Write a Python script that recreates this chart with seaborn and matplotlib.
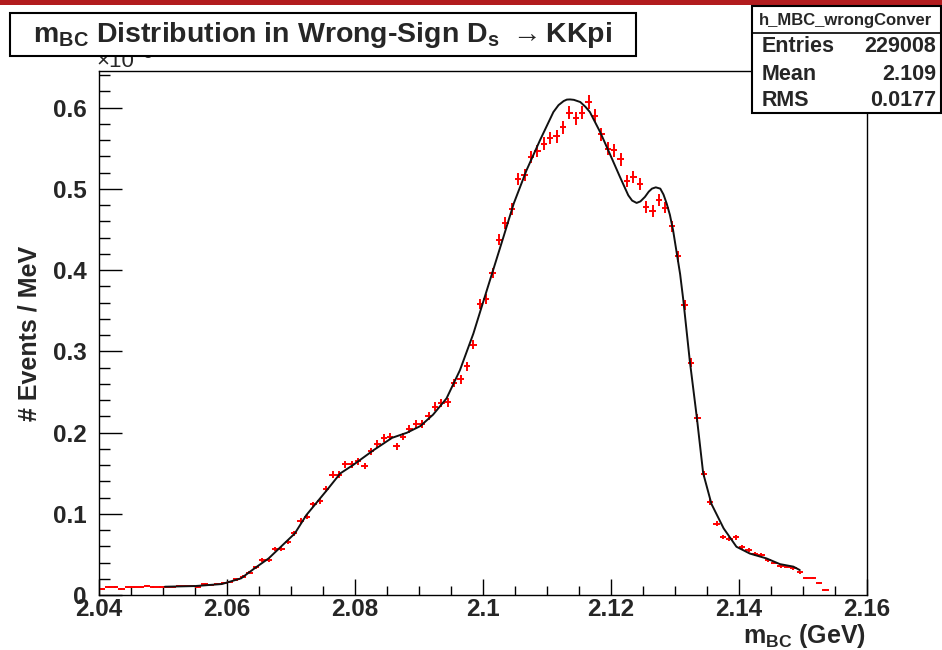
import numpy as np
import pandas as pd
import seaborn as sns
import matplotlib
matplotlib.use("Agg")
import matplotlib.pyplot as plt
from matplotlib.patches import Rectangle
from matplotlib.lines import Line2D
from matplotlib.ticker import MultipleLocator, FuncFormatter

# ---------------- data ----------------
bin_width = 0.001
first_bin_center = 2.0405
counts = [
    0.0074, 0.0102, 0.0102, 0.0074, 0.0094, 0.0094, 0.0094, 0.0115, 0.0102, 0.0102,
    0.0094, 0.0100, 0.0110, 0.0110, 0.0110, 0.0102, 0.0131, 0.0125, 0.0135, 0.0152,
    0.0164, 0.0193, 0.0225, 0.0275, 0.0340, 0.0430, 0.0430, 0.0566, 0.0570, 0.0656,
    0.0758, 0.0914, 0.0963, 0.1115, 0.1160, 0.1304, 0.1480, 0.1480, 0.1607, 0.1607,
    0.1645, 0.1587, 0.1768, 0.1860, 0.1930, 0.1950, 0.1830, 0.1950, 0.2040, 0.2105,
    0.2105, 0.2202, 0.2320, 0.2360, 0.2370, 0.2610, 0.2653, 0.2817, 0.3083, 0.3580,
    0.3640, 0.3965, 0.4375, 0.4580, 0.4756, 0.5125, 0.5166, 0.5390, 0.5465, 0.5556,
    0.5625, 0.5646, 0.5760, 0.5937, 0.5870, 0.5937, 0.6068, 0.5900, 0.5670, 0.5494,
    0.5474, 0.5363, 0.5097, 0.5146, 0.5055, 0.4777, 0.4727, 0.4867, 0.4769, 0.4539,
    0.4170, 0.3567, 0.2858, 0.2173, 0.1488, 0.1148, 0.0876, 0.0714, 0.0690, 0.0708,
    0.0595, 0.0550, 0.0508, 0.0492, 0.0426, 0.0398, 0.0357, 0.0349, 0.0332, 0.0280,
    0.0209, 0.0207, 0.0152, 0.0061,
]
err_scale = 0.0105  # statistical error ~ sqrt(content), in plotted units

fit_x = [2.0503, 2.0550, 2.0592, 2.0622, 2.0643, 2.0665, 2.0685, 2.0706, 2.0724, 2.0756,
         2.0777, 2.0797, 2.0829, 2.0858, 2.0881, 2.0902, 2.0922, 2.0943, 2.0964, 2.0985,
         2.1000, 2.1032, 2.1048, 2.1068, 2.1089, 2.1110, 2.1118, 2.1126, 2.1131, 2.1136,
         2.1142, 2.1152, 2.1160, 2.1167, 2.1183, 2.1198, 2.1214, 2.1227, 2.1233, 2.1240,
         2.1246, 2.1253, 2.1259, 2.1264, 2.1270, 2.1277, 2.1282, 2.1287, 2.1292, 2.1297,
         2.1308, 2.1313, 2.1323, 2.1334, 2.1344, 2.1357, 2.1376, 2.1396, 2.1417, 2.1443,
         2.1464, 2.1485, 2.1495]
fit_y = [0.0102, 0.0110, 0.0135, 0.0205, 0.0328, 0.0450, 0.0600, 0.0758, 0.0984, 0.1290,
         0.1497, 0.1600, 0.1783, 0.1935, 0.1997, 0.2079, 0.2220, 0.2420, 0.2768, 0.3219,
         0.3600, 0.4408, 0.4818, 0.5228, 0.5597, 0.5945, 0.6030, 0.6080, 0.6098, 0.6100,
         0.6095, 0.6068, 0.6010, 0.5945, 0.5699, 0.5433, 0.5146, 0.4920, 0.4855, 0.4826,
         0.4845, 0.4900, 0.4965, 0.5002, 0.5018, 0.5002, 0.4930, 0.4818, 0.4680, 0.4490,
         0.3950, 0.3629, 0.2890, 0.2193, 0.1500, 0.1120, 0.0820, 0.0594, 0.0510, 0.0450,
         0.0380, 0.0349, 0.0307]

title_text = r"m$_{BC}$ Distribution in Wrong-Sign D$_{s}$ $\rightarrow$KKpi"
xlabel_text = r"m$_{BC}$ (GeV)"
ylabel_text = "# Events / MeV"
stats_name = "h_MBC_wrongConver"
stats_labels = ["Entries", "Mean", "RMS"]
stats_values = ["229008", "2.109", "0.0177"]
x_range = (2.04, 2.16)
y_range = (0.0, 0.645)

# ---------------- style ----------------
sns.set_style("ticks")
plt.rcParams["font.family"] = ["Liberation Sans", "DejaVu Sans"]
plt.rcParams["font.weight"] = "bold"
plt.rcParams["mathtext.fontset"] = "custom"
plt.rcParams["mathtext.rm"] = "Liberation Sans:bold"
plt.rcParams["mathtext.it"] = "Liberation Sans:bold"
plt.rcParams["mathtext.bf"] = "Liberation Sans:bold"
plt.rcParams["mathtext.sf"] = "Liberation Sans:bold"

W, H = 942, 650


def fx(px):
    return px / W


def fy(py):
    return 1 - py / H


fig = plt.figure(figsize=(9.42, 6.5), dpi=100)
fig.patch.set_facecolor("white")

# red band at the very top
fig.add_artist(Rectangle((0, fy(5)), 1, 5 / H, transform=fig.transFigure,
                         facecolor="#b21c1e", edgecolor="none", zorder=1))

ax = fig.add_axes([fx(99), fy(595), fx(867) - fx(99), fy(71) - fy(595)])
ax.set_facecolor("white")

bins = pd.DataFrame({"x": first_bin_center + bin_width * np.arange(len(counts)),
                     "y": counts})
bins["err"] = err_scale * np.sqrt(bins["y"])

ax.errorbar(bins["x"], bins["y"], xerr=bin_width / 2, yerr=bins["err"], fmt="none",
            ecolor="#ff0000", elinewidth=1.4, capsize=0, zorder=2)

fit = pd.DataFrame({"x": fit_x, "y": fit_y})
sns.lineplot(data=fit, x="x", y="y", ax=ax, color="#111111", lw=1.4, sort=False,
             estimator=None, zorder=3)

ax.set_xlim(*x_range)
ax.set_ylim(*y_range)
ax.set_xlabel("")
ax.set_ylabel("")

ax.xaxis.set_major_locator(MultipleLocator(0.02))
ax.xaxis.set_minor_locator(MultipleLocator(0.005))
ax.yaxis.set_major_locator(MultipleLocator(0.1))
ax.yaxis.set_minor_locator(MultipleLocator(0.02))
fmt = FuncFormatter(lambda v, p: ("%g" % round(v, 4)))
ax.xaxis.set_major_formatter(fmt)
ax.yaxis.set_major_formatter(fmt)

ax.tick_params(axis="x", which="major", direction="in", length=11.5, width=1.0,
               labelsize=17.5, pad=2, color="black")
ax.tick_params(axis="x", which="minor", direction="in", length=6.5, width=1.0, color="black")
ax.tick_params(axis="y", which="major", direction="in", length=16.5, width=1.0,
               labelsize=17.5, pad=9, color="black")
ax.tick_params(axis="y", which="minor", direction="in", length=8, width=1.0, color="black")
for lbl in ax.get_xticklabels() + ax.get_yticklabels():
    lbl.set_fontweight("bold")

for s in ax.spines.values():
    s.set_visible(True)
    s.set_linewidth(1.0)
    s.set_color("black")

# axis titles
fig.text(fx(30), fy(333), ylabel_text, rotation=90, ha="center", va="center",
         fontsize=18, fontweight="bold")
fig.text(fx(866), fy(636), xlabel_text, ha="right", va="center", fontsize=18,
         fontweight="bold")

# exponent label (partly hidden behind the title box)
fig.text(fx(96), fy(67), "×10", ha="left", va="baseline", fontsize=16,
         fontweight="normal", zorder=2)
fig.text(fx(143), fy(58), "3", ha="left", va="baseline", fontsize=11,
         fontweight="normal", zorder=2)

# title box
fig.add_artist(Rectangle((fx(10), fy(56)), fx(636) - fx(10), (56 - 13) / H,
                         transform=fig.transFigure, facecolor="white",
                         edgecolor="black", lw=1.5, zorder=5))
fig.text(fx(323), fy(35), title_text, ha="center", va="center", fontsize=20.5,
         fontweight="bold", zorder=6)

# stats box
fig.add_artist(Rectangle((fx(752), fy(113)), fx(941) - fx(752), (113 - 6) / H,
                         transform=fig.transFigure, facecolor="white",
                         edgecolor="black", lw=1.5, zorder=5))
fig.add_artist(Line2D([fx(752), fx(941)], [fy(33), fy(33)], transform=fig.transFigure,
                      color="black", lw=1.2, zorder=6))
fig.text(fx(846), fy(20), stats_name, ha="center", va="center", fontsize=12,
         fontweight="bold", zorder=7)
for i, (lab, val) in enumerate(zip(stats_labels, stats_values)):
    yy = 47 + 27 * i
    fig.text(fx(762), fy(yy), lab, ha="left", va="center", fontsize=15.5,
             fontweight="bold", zorder=7)
    fig.text(fx(936), fy(yy), val, ha="right", va="center", fontsize=15.5,
             fontweight="bold", zorder=7)

fig.savefig("out.png", dpi=100)
